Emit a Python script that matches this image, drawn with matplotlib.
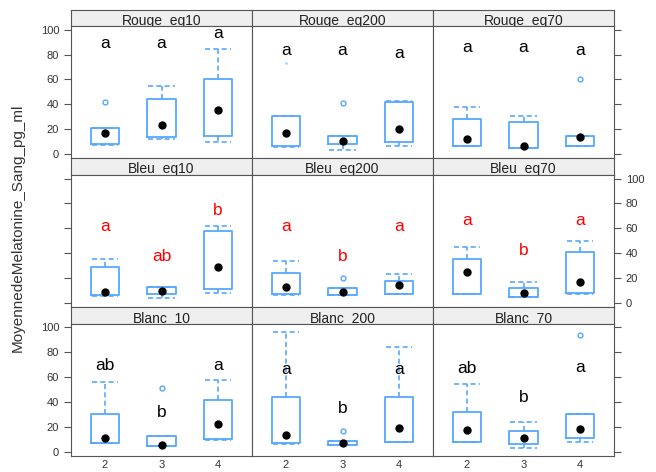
import matplotlib
matplotlib.use("Agg")
import matplotlib.pyplot as plt

plt.rcParams['font.family'] = ['Liberation Sans', 'DejaVu Sans']

# panneaux (ordre ligne par ligne) et groupes
panneaux = ["Rouge_eq10", "Rouge_eq200", "Rouge_eq70",
            "Bleu_eq10", "Bleu_eq200", "Bleu_eq70",
            "Blanc_10", "Blanc_200", "Blanc_70"]
groupes = ["2", "3", "4"]

# statistiques des boites
moust_bas = [[7.5, 12.3, 9.9], [6, 3.2, 6.4], [6.5, 4.8, 6.5],
             [5.3, 3.7, 8.1], [6.5, 6.2, 7], [7, 4.3, 7.3],
             [6.5, 4.5, 9.5], [6, 5.3, 7.5], [7.5, 3.2, 7.7]]
q1 = [[8, 13.4, 14.5], [6.4, 8, 9.9], [6.7, 4.8, 6.7],
      [5.9, 6.7, 10.8], [6.7, 6.2, 7.3], [7.3, 4.3, 7.5],
      [6.6, 4.5, 9.8], [6.6, 5.3, 7.7], [7.7, 6.4, 10.6]]
mediane = [[16.6, 23.3, 35], [16.6, 10.4, 20], [12, 6.7, 13.4],
           [8.6, 9.4, 28.8], [12.4, 8.6, 14.6], [24.8, 8.1, 17],
           [11.2, 5.3, 21.8], [13, 6.6, 18.6], [17.3, 10.6, 17.8]]
q3 = [[20.6, 44, 60.2], [30.5, 14.7, 42], [28.1, 25.7, 14.5],
      [29, 13, 57.5], [24.3, 11.6, 17.5], [35.6, 11.6, 40.5],
      [30.4, 12.5, 41.3], [44, 8.5, 44], [32, 16.5, 30.4]]
moust_haut = [[20.6, 54.6, 84.9], [30.5, 14.7, 42.5], [37.5, 30.5, 14.5],
              [35, 13, 61.5], [33.7, 11.6, 22.9], [45, 16.7, 49.4],
              [56.2, 12.5, 57.3], [96, 8.5, 84.5], [54.4, 24.2, 30.4]]
extremes = [[[42], [], []], [[], [41.2], []], [[], [], [60.2]],
            [[], [], []], [[], [19.7], []], [[], [], []],
            [[], [51.2], []], [[], [16.5], []], [[], [], [93.8]]]
# point isolé très pâle (Rouge_eq200, groupe 2)
point_pale = [73]

# lettres des comparaisons multiples
lettres = [["a", "a", "a"], ["a", "a", "a"], ["a", "a", "a"],
           ["a", "ab", "b"], ["a", "b", "a"], ["a", "b", "a"],
           ["ab", "b", "a"], ["a", "b", "a"], ["ab", "b", "a"]]
lettres_y = [[89, 89, 97], [83.5, 83.5, 81], [85.4, 85.9, 83],
             [61.5, 37.2, 74.2], [61.5, 37.2, 61.5], [66, 41.8, 66],
             [69, 31.7, 69], [65.8, 35, 65.8], [67.2, 43.2, 67.7]]

yticks = [0, 20, 40, 60, 80, 100]

W, H = 656, 472
bleu = "#55A8FF"
gris = "#555555"

fig = plt.figure(figsize=(W / 100, H / 100), dpi=100)


def rect(x, y, w, h):
    return [x / W, 1 - (y + h) / H, w / W, h / H]


x0, cw = 71, 181
y0, sh, ph = 9.5, 16.8, 132.0

for i, nom in enumerate(panneaux):
    r, c = divmod(i, 3)
    top = y0 + r * (sh + ph)

    # bandeau
    st = fig.add_axes(rect(x0 + c * cw, top, cw, sh))
    st.set_facecolor("#efefef")
    st.set_xticks([])
    st.set_yticks([])
    for s in st.spines.values():
        s.set_color(gris)
        s.set_zorder(5)
    st.text(0.5, 1.8 / sh, nom, ha="center", va="baseline", fontsize=10,
            color="#222222", transform=st.transAxes, zorder=1, clip_on=True)

    ax = fig.add_axes(rect(x0 + c * cw, top + sh, cw, ph))
    stats = []
    for k in range(3):
        stats.append(dict(whislo=moust_bas[i][k], q1=q1[i][k], med=mediane[i][k],
                          q3=q3[i][k], whishi=moust_haut[i][k], fliers=extremes[i][k]))
    ax.bxp(stats, positions=[1, 2, 3], widths=0.5, capwidths=0.46,
           boxprops=dict(color=bleu, lw=1.3),
           whiskerprops=dict(color=bleu, lw=1.2, linestyle=(0, (3, 2))),
           capprops=dict(color=bleu, lw=1.2, linestyle=(0, (3, 2))),
           medianprops=dict(linestyle="none"),
           flierprops=dict(marker="o", markersize=3.5, markerfacecolor="none",
                           markeredgecolor=bleu, markeredgewidth=1))
    if nom == "Rouge_eq200":
        ax.plot([1] * len(point_pale), point_pale, ".", color="#aad4ff", markersize=2)
    ax.plot([1, 2, 3], mediane[i], "o", color="black", markersize=5, zorder=5)

    couleur = "red" if r == 1 else "black"
    for k in range(3):
        ax.text(k + 1, lettres_y[i][k], lettres[i][k], ha="center", va="center",
                fontsize=12.5, color=couleur)

    ax.set_xlim(0.4, 3.6)
    ax.set_ylim(-3.5, 102.8)
    ax.set_yticks(yticks)
    ax.set_xticks([1, 2, 3])
    for s in ax.spines.values():
        s.set_color(gris)

    ax.tick_params(axis="y", direction="out", length=5, color=gris,
                   labelsize=8, labelcolor="#333333",
                   left=(c == 0), right=(c == 2),
                   labelleft=(c == 0 and r != 1), labelright=(c == 2 and r == 1))
    ax.tick_params(axis="x", length=0, labelsize=8, labelcolor="#333333", pad=3,
                   labelbottom=(r == 2))
    if r == 2:
        ax.set_xticklabels(groupes)

fig.text(18 / W, 1 - 228 / H, "MoyennedeMelatonine_Sang_pg_ml", rotation=90,
         ha="center", va="center", fontsize=11, color="#333333")

fig.savefig("out.png", dpi=100)
